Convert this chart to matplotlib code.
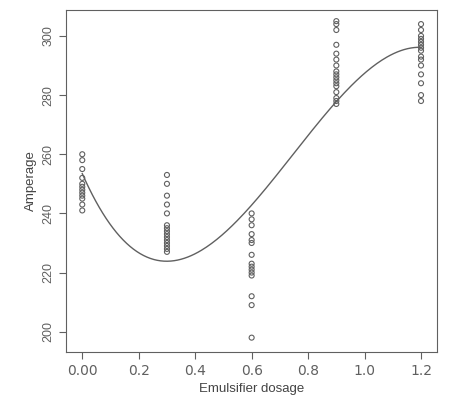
import matplotlib.pyplot as plt
import numpy as np

dosage = [0.0, 0.3, 0.6, 0.9, 1.2]
amperage = {
    0.0: [260, 258, 255, 252, 250, 249, 248, 247, 246, 245, 243, 241],
    0.3: [253, 250, 246, 243, 240, 236, 235, 234, 233, 232, 231, 230, 229, 228, 227],
    0.6: [240, 238, 236, 233, 231, 230, 226, 223, 222, 221, 220, 219, 212, 209, 198],
    0.9: [305, 304, 302, 297, 294, 292, 290, 288, 287, 286, 285, 284, 283, 281, 279, 278, 277],
    1.2: [304, 302, 300, 299, 298, 297, 296, 295, 293, 292, 290, 287, 284, 280, 278],
}

xs = np.concatenate([[d] * len(amperage[d]) for d in dosage])
ys = np.concatenate([amperage[d] for d in dosage])

# cubic regression fitted to the points
coef = np.polyfit(xs, ys, 3)
grid = np.linspace(0, 1.2, 200)

gray = "#606060"
fig = plt.figure(figsize=(4.66, 4.12), dpi=100)
ax = fig.add_axes([0.142, 0.146, 0.796, 0.830])

ax.scatter(xs, ys, s=13, facecolors="none", edgecolors=gray, linewidths=0.8)
ax.plot(grid, np.polyval(coef, grid), color=gray, lw=1.0)

ax.set_xlim(-0.057, 1.257)
ax.set_ylim(193.2, 308.8)
ax.set_xticks([0.0, 0.2, 0.4, 0.6, 0.8, 1.0, 1.2])
ax.set_xticklabels(["0.00", "0.2", "0.4", "0.6", "0.8", "1.0", "1.2"],
                   fontsize=10, color=gray)
ax.set_yticks([200, 220, 240, 260, 280, 300])
ax.set_yticklabels(["200", "220", "240", "260", "280", "300"],
                   rotation=90, va="center", fontsize=9, color=gray,
                   family="Liberation Sans")
for s in ax.spines.values():
    s.set_color(gray)
ax.tick_params(colors=gray, length=5)
ax.set_xlabel("Emulsifier dosage", family="Liberation Sans", fontsize=9.5, color="#444444")
ax.set_ylabel("Amperage", family="Liberation Sans", fontsize=9.5, color="#444444")

fig.savefig("out.png", dpi=100)
